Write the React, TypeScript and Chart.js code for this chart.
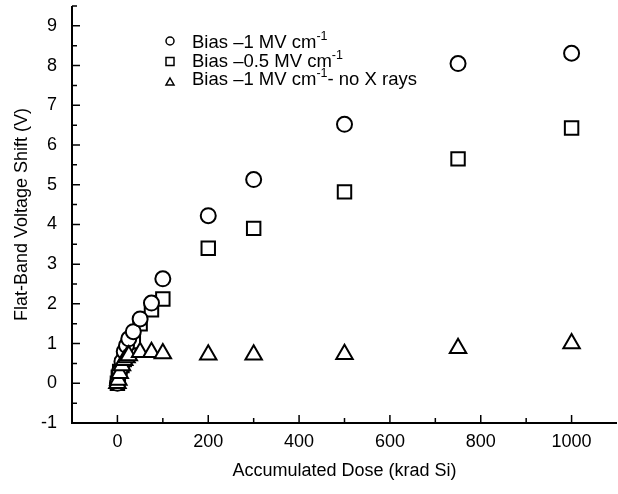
import React, { useEffect, useRef } from "react";
import { Chart, registerables, ScatterController } from "chart.js";

Chart.register(...registerables);
(ScatterController as any).prototype.getMaxOverflow = function () {
  return 0;
};

const circleDose = [0, 5, 10, 15, 20, 25, 35, 50, 75, 100, 200, 300, 500, 750, 1000];
const circleShift = [0.0, 0.3, 0.55, 0.8, 0.95, 1.12, 1.3, 1.62, 2.02, 2.63, 4.22, 5.13, 6.52, 8.05, 8.31];

const squareDose = [0, 2, 5, 10, 15, 20, 25, 35, 50, 75, 100, 200, 300, 500, 750, 1000];
const squareShift = [0.0, 0.15, 0.3, 0.45, 0.6, 0.75, 0.9, 1.05, 1.5, 1.85, 2.12, 3.4, 3.9, 4.82, 5.65, 6.43];

const triangleDose = [0, 2, 5, 10, 15, 20, 25, 50, 75, 100, 200, 300, 500, 750, 1000];
const triangleShift = [0.0, 0.08, 0.25, 0.45, 0.58, 0.65, 0.7, 0.78, 0.78, 0.75, 0.72, 0.72, 0.73, 0.88, 1.0];

const xMajorTicks = [0, 200, 400, 600, 800, 1000];
const xMinorTicks = [100, 300, 500, 700, 900];
const yMajorTicks = [-1, 0, 1, 2, 3, 4, 5, 6, 7, 8, 9];
const yMinorTicks = [-0.5, 0.5, 1.5, 2.5, 3.5, 4.5, 5.5, 6.5, 7.5, 8.5, 9.5];

const legendLabels = [
  { marker: "circle", pre: "Bias \u20131 MV cm", sup: "-1", post: "" },
  { marker: "rect", pre: "Bias \u20130.5 MV cm", sup: "-1", post: "" },
  { marker: "triangle", pre: "Bias \u20131 MV cm", sup: "-1", post: "- no X rays" },
];

const FONT = "'Liberation Sans', Arial, Helvetica, sans-serif";

function toPts(xs: number[], ys: number[]) {
  return xs.map((x, i) => ({ x, y: ys[i] }));
}

const ticksPlugin = {
  id: "innerTicks",
  afterDraw(chart: any) {
    const ctx = chart.ctx;
    const xs = chart.scales.x;
    const ys = chart.scales.y;
    const area = chart.chartArea;
    ctx.save();
    ctx.strokeStyle = "#000";
    ctx.lineWidth = 2;
    ctx.beginPath();
    ctx.moveTo(area.left, area.top);
    ctx.lineTo(area.left, area.bottom);
    ctx.lineTo(area.right, area.bottom);
    ctx.stroke();
    ctx.lineWidth = 1.5;
    ctx.beginPath();
    xMajorTicks.forEach((v) => {
      const p = xs.getPixelForValue(v);
      ctx.moveTo(p, area.bottom);
      ctx.lineTo(p, area.bottom - 8);
    });
    xMinorTicks.forEach((v) => {
      const p = xs.getPixelForValue(v);
      ctx.moveTo(p, area.bottom);
      ctx.lineTo(p, area.bottom - 5);
    });
    yMajorTicks.forEach((v) => {
      const p = ys.getPixelForValue(v);
      ctx.moveTo(area.left, p);
      ctx.lineTo(area.left + 8, p);
    });
    yMinorTicks.forEach((v) => {
      const p = ys.getPixelForValue(v);
      ctx.moveTo(area.left, p);
      ctx.lineTo(area.left + 5, p);
    });
    ctx.stroke();
    ctx.restore();
  },
};

const legendPlugin = {
  id: "customLegend",
  afterDraw(chart: any) {
    const ctx = chart.ctx;
    const area = chart.chartArea;
    const symX = area.left + 98;
    const textX = area.left + 120;
    const rowY = [area.top + 37, area.top + 55.5, area.top + 74];
    ctx.save();
    ctx.strokeStyle = "#000";
    ctx.fillStyle = "#fff";
    ctx.lineWidth = 1.5;
    legendLabels.forEach((item, i) => {
      const y = rowY[i];
      ctx.beginPath();
      if (item.marker === "circle") {
        ctx.arc(symX, y - 2, 4, 0, Math.PI * 2);
      } else if (item.marker === "rect") {
        ctx.rect(symX - 4, y - 4, 8, 8);
      } else {
        ctx.moveTo(symX, y - 2);
        ctx.lineTo(symX + 4, y + 5);
        ctx.lineTo(symX - 4, y + 5);
        ctx.closePath();
      }
      ctx.fill();
      ctx.stroke();
      ctx.fillStyle = "#000";
      ctx.textBaseline = "middle";
      ctx.textAlign = "left";
      ctx.font = `18.5px ${FONT}`;
      ctx.fillText(item.pre, textX, y);
      let w = ctx.measureText(item.pre).width;
      ctx.font = `12.5px ${FONT}`;
      ctx.fillText(item.sup, textX + w, y - 6);
      w += ctx.measureText(item.sup).width;
      if (item.post) {
        ctx.font = `18.5px ${FONT}`;
        ctx.fillText(item.post, textX + w, y);
      }
      ctx.fillStyle = "#fff";
    });
    ctx.restore();
  },
};

export default function App() {
  const ref = useRef<HTMLCanvasElement | null>(null);
  useEffect(() => {
    if (!ref.current) return;
    const base = {
      backgroundColor: "#fff",
      borderColor: "#000",
      pointBackgroundColor: "#fff",
      pointBorderColor: "#000",
      pointBorderWidth: 2,
      pointHoverRadius: 0,
      showLine: false,
      clip: false,
    };
    const chart = new Chart(ref.current, {
      type: "scatter",
      data: {
        datasets: [
          { ...base, label: "Bias -1 MV cm-1", data: toPts(circleDose, circleShift), pointStyle: "circle", pointRadius: 7.5, order: 1 },
          { ...base, label: "Bias -0.5 MV cm-1", data: toPts(squareDose, squareShift), pointStyle: "rect", pointRadius: 9.5, order: 2 },
          { ...base, label: "Bias -1 MV cm-1- no X rays", data: toPts(triangleDose, triangleShift), pointStyle: "triangle", pointRadius: 9.5, order: 0 },
        ],
      },
      options: {
        animation: false,
        responsive: false,
        maintainAspectRatio: false,
        layout: { padding: { top: 6, right: 1, left: 0, bottom: 0 } },
        plugins: { legend: { display: false }, tooltip: { enabled: false } },
        scales: {
          x: {
            type: "linear",
            min: -100,
            max: 1100,
            afterBuildTicks: (s: any) => {
              s.ticks = xMajorTicks.map((v) => ({ value: v }));
            },
            afterFit: (s: any) => {
              s.height = 71;
              s.paddingLeft = 0;
              s.paddingRight = 0;
            },
            grid: { display: false, drawTicks: false },
            border: { display: false },
            ticks: { color: "#000", font: { size: 18, family: FONT }, padding: 8, maxRotation: 0, autoSkip: false, callback: (v: any) => String(v) },
            title: { display: true, text: "Accumulated Dose (krad Si)", color: "#000", font: { size: 18, family: FONT }, padding: { top: 6, bottom: 12 } },
          },
          y: {
            type: "linear",
            min: -1,
            max: 9.5,
            afterBuildTicks: (s: any) => {
              s.ticks = yMajorTicks.map((v) => ({ value: v }));
            },
            afterFit: (s: any) => {
              s.width = 72;
              s.paddingTop = 0;
              s.paddingBottom = 0;
            },
            grid: { display: false, drawTicks: false },
            border: { display: false },
            ticks: { color: "#000", font: { size: 18, family: FONT }, padding: 15, autoSkip: false, callback: (v: any) => String(v) },
            title: { display: true, text: "Flat-Band Voltage Shift (V)", color: "#000", font: { size: 18, family: FONT }, padding: { top: 11, bottom: 4 } },
          },
        },
      },
      plugins: [ticksPlugin, legendPlugin],
    } as any);
    return () => chart.destroy();
  }, []);
  return (
    <div style={{ position: "absolute", left: 0, top: 0, width: 618, height: 494, background: "#fff" }}>
      <canvas ref={ref} width={618} height={494} style={{ display: "block" }} />
    </div>
  );
}
